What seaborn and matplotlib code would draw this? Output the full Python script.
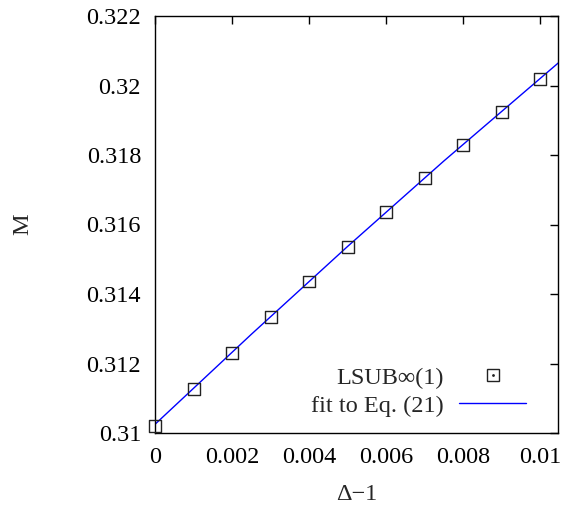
import numpy as np
import pandas as pd
import seaborn as sns
import matplotlib
matplotlib.use("Agg")
import matplotlib.pyplot as plt
from matplotlib.ticker import FuncFormatter, MultipleLocator
from matplotlib.lines import Line2D

# data
delta = [0.0, 0.001, 0.002, 0.003, 0.004, 0.005, 0.006, 0.007, 0.008, 0.009, 0.010]
m_vals = [0.31021, 0.31127, 0.31231, 0.31335, 0.31436, 0.31536,
          0.31635, 0.31734, 0.31828, 0.31924, 0.32020]

fit_x = [0.0, 0.0025, 0.005, 0.0075, 0.0105]
fit_y = [0.31025, 0.31284, 0.31537, 0.31783, 0.32068]

sns.set_style("white")
plt.rcParams["font.family"] = ["Liberation Serif", "DejaVu Serif"]
FS = 17.5

pts = pd.DataFrame({"x": delta, "y": m_vals})
fit = pd.DataFrame({"x": fit_x, "y": fit_y})

fig = plt.figure(figsize=(5.63, 5.08), dpi=100)
ax = fig.add_axes([155 / 563, 1 - 433 / 508, 403 / 563, 417 / 508])

sns.lineplot(data=fit, x="x", y="y", ax=ax, color="#0000ff", lw=1.0, sort=False)
sns.scatterplot(data=pts, x="x", y="y", ax=ax, marker="s", s=74,
                facecolor="none", edgecolor="#222222", linewidth=1.0,
                clip_on=False, zorder=3)

ax.set_xlim(0, 0.01046)
ax.set_ylim(0.31, 0.322)
ax.xaxis.set_major_locator(MultipleLocator(0.002))
ax.yaxis.set_major_locator(MultipleLocator(0.002))
fmt = FuncFormatter(lambda v, p: "%g" % round(v, 6))
ax.xaxis.set_major_formatter(fmt)
ax.yaxis.set_major_formatter(fmt)
ax.tick_params(direction="in", length=6, width=1, top=True, right=True,
               labelsize=FS, pad=10, colors="black")

for sp in ax.spines.values():
    sp.set_color("black")
    sp.set_linewidth(1.0)

ax.set_xlabel("\u0394\u22121", fontsize=FS)
ax.set_ylabel("M", fontsize=FS)
ax.xaxis.set_label_coords(0.5, -0.122)
ax.yaxis.set_label_coords(-0.327, 0.5)
ax.yaxis.label.set_verticalalignment("center")

sq = Line2D([], [], ls="none", marker="s", ms=8.6, mfc="none", mec="#222222", mew=1.0)
dot = Line2D([], [], ls="none", marker=".", ms=2, color="#222222")
ln = Line2D([], [], color="#0000ff", lw=1.0)
leg = ax.legend([(sq, dot), ln], ["LSUB\u221e(1)", "fit to Eq. (21)"],
                loc="lower right", bbox_to_anchor=(526 / 563, 1 - 417 / 508),
                bbox_transform=fig.transFigure, frameon=False, markerfirst=False,
                fontsize=FS, handlelength=2.75, handletextpad=0.65,
                borderpad=0, borderaxespad=0, labelspacing=0.25)

fig.savefig("out.png", dpi=100)
